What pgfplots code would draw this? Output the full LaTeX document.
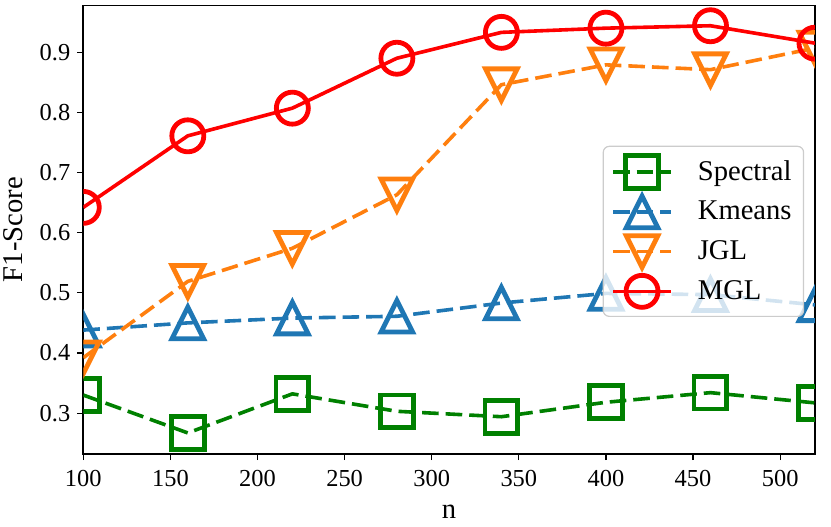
\documentclass[border=0pt]{standalone}
\usepackage{pgfplots}
\pgfplotsset{compat=1.18}
\usepackage{fontspec}
\setmainfont{Liberation Serif}
\definecolor{cgreen}{HTML}{008000}
\definecolor{cblue}{HTML}{1F77B4}
\definecolor{corange}{HTML}{FF7F0E}
\definecolor{cred}{HTML}{FF0000}
\pgfdeclareplotmark{tup}{%
  \pgfpathmoveto{\pgfqpoint{0pt}{\pgfplotmarksize}}%
  \pgfpathlineto{\pgfqpoint{-\pgfplotmarksize}{-\pgfplotmarksize}}%
  \pgfpathlineto{\pgfqpoint{\pgfplotmarksize}{-\pgfplotmarksize}}%
  \pgfpathclose\pgfusepathqstroke}
\pgfdeclareplotmark{tdown}{%
  \pgfpathmoveto{\pgfqpoint{0pt}{-\pgfplotmarksize}}%
  \pgfpathlineto{\pgfqpoint{-\pgfplotmarksize}{\pgfplotmarksize}}%
  \pgfpathlineto{\pgfqpoint{\pgfplotmarksize}{\pgfplotmarksize}}%
  \pgfpathclose\pgfusepathqstroke}
\begin{document}
\begin{tikzpicture}
\begin{axis}[
  width=365.85pt, height=224.35pt, scale only axis,
  xmin=100, xmax=520, ymin=0.232, ymax=0.978,
  xtick={100,150,200,250,300,350,400,450,500},
  xticklabels={\textrm{100},\textrm{150},\textrm{200},\textrm{250},\textrm{300},\textrm{350},\textrm{400},\textrm{450},\textrm{500}},
  ytick={0.3,0.4,0.5,0.6,0.7,0.8,0.9},
  yticklabels={\textrm{0.3},\textrm{0.4},\textrm{0.5},\textrm{0.6},\textrm{0.7},\textrm{0.8},\textrm{0.9}},
  tick align=outside, major tick length=3pt,
  tick style={black, line width=0.6pt},
  xtick pos=bottom, ytick pos=left,
  axis line style={line width=0.8pt},
  tick label style={font=\rmfamily\fontsize{12.2}{14}\selectfont},
  xticklabel style={yshift=-1.5pt},
  label style={font=\fontsize{14.3}{16}\selectfont},
  xlabel={n}, ylabel={F1-Score},
  xlabel style={at={(axis description cs:0.5,-0.129)}, anchor=center},
  ylabel style={at={(axis description cs:-0.0957,0.5)}, anchor=center},
  clip marker paths=true,
  every axis plot/.append style={line width=1.8pt},
  legend image code/.code={\draw[mark repeat=2,mark phase=2] plot coordinates {(0pt,0pt) (14.5pt,0pt) (29pt,0pt)};},
  legend style={at={(axis description cs:0.7098,0.687)}, anchor=north west,
    draw=black!20, line width=0.6pt, rounded corners=3pt, fill=white, fill opacity=0.8, text opacity=1,
    font=\fontsize{14.3}{16}\selectfont, row sep=4pt, column sep=10.5pt, inner xsep=4pt, inner ysep=4.5pt},
  legend cell align=left,
]
\addplot[cgreen, dash pattern=on 8.3pt off 3.5pt, mark=square, mark size=8.2pt, mark options={solid, line width=2.4pt}]
  coordinates {(100,0.330) (160,0.267) (220,0.332) (280,0.303) (340,0.294) (400,0.318) (460,0.334) (520,0.317)};
\addlegendentry{Spectral}
\addplot[cblue, dash pattern=on 8.3pt off 3.5pt, mark=tup, mark size=7.9pt, mark options={solid, line width=2.4pt, miter limit=10}]
  coordinates {(100,0.438) (160,0.450) (220,0.458) (280,0.461) (340,0.483) (400,0.499) (460,0.497) (520,0.480)};
\addlegendentry{Kmeans}
\addplot[corange, dash pattern=on 8.3pt off 3.5pt, mark=tdown, mark size=7.9pt, mark options={solid, line width=2.4pt, miter limit=10}]
  coordinates {(100,0.392) (160,0.519) (220,0.574) (280,0.663) (340,0.846) (400,0.879) (460,0.871) (520,0.907)};
\addlegendentry{JGL}
\addplot[cred, solid, mark=o, mark size=8pt, mark options={solid, line width=2.4pt}]
  coordinates {(100,0.642) (160,0.761) (220,0.807) (280,0.890) (340,0.933) (400,0.940) (460,0.944) (520,0.915)};
\addlegendentry{MGL}
\end{axis}
\pgfresetboundingbox
\useasboundingbox (-41.65pt,-36pt) rectangle (373.85pt,227pt);
\end{tikzpicture}
\end{document}
